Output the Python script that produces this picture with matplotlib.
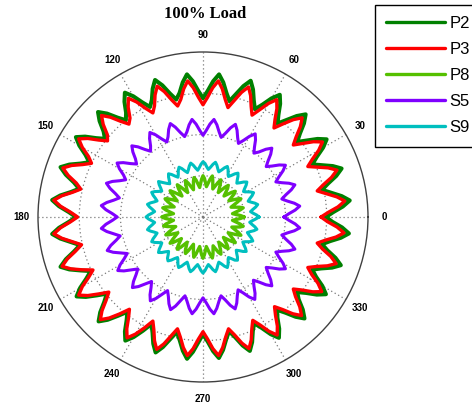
import numpy as np
import matplotlib
matplotlib.use("Agg")
import matplotlib.pyplot as plt

# === Data: radius samples, 6 per lobe, 28 lobes around the circle ===
SERIES_NAMES = ["P2", "P3", "P8", "S5", "S9"]

P2 = [
    14.9, 15.8, 17.0, 17.9, 17.0, 15.8,  14.8, 15.7, 16.9, 17.8, 16.9, 15.7,
    14.7, 15.6, 16.8, 17.7, 16.8, 15.6,  14.6, 15.5, 16.7, 17.6, 16.7, 15.5,
    14.5, 15.4, 16.6, 17.5, 16.6, 15.4,  14.5, 15.4, 16.6, 17.5, 16.6, 15.4,
    14.4, 15.3, 16.5, 17.4, 16.5, 15.3,  14.4, 15.3, 16.5, 17.4, 16.5, 15.3,
    14.6, 15.5, 16.7, 17.6, 16.7, 15.5,  14.8, 15.7, 16.9, 17.8, 16.9, 15.7,
    15.0, 15.9, 17.1, 18.0, 17.1, 15.9,  15.2, 16.1, 17.3, 18.2, 17.3, 16.1,
    15.3, 16.2, 17.4, 18.3, 17.4, 16.2,  15.4, 16.3, 17.5, 18.4, 17.5, 16.3,
    15.4, 16.3, 17.5, 18.4, 17.5, 16.3,  15.3, 16.2, 17.4, 18.3, 17.4, 16.2,
    15.1, 16.0, 17.2, 18.1, 17.2, 16.0,  14.9, 15.8, 17.0, 17.9, 17.0, 15.8,
    14.7, 15.6, 16.8, 17.7, 16.8, 15.6,  14.4, 15.3, 16.5, 17.4, 16.5, 15.3,
    14.3, 15.2, 16.4, 17.3, 16.4, 15.2,  14.2, 15.1, 16.3, 17.2, 16.3, 15.1,
    14.2, 15.1, 16.3, 17.2, 16.3, 15.1,  14.3, 15.2, 16.4, 17.3, 16.4, 15.2,
    14.4, 15.3, 16.5, 17.4, 16.5, 15.3,  14.6, 15.5, 16.7, 17.6, 16.7, 15.5,
    14.7, 15.6, 16.8, 17.7, 16.8, 15.6,  14.8, 15.7, 16.9, 17.8, 16.9, 15.7,
]

P3 = [
    14.3, 15.2, 16.4, 17.3, 16.4, 15.2,  14.2, 15.1, 16.3, 17.2, 16.3, 15.1,
    14.1, 15.0, 16.2, 17.1, 16.2, 15.0,  14.0, 14.9, 16.1, 17.0, 16.1, 14.9,
    13.8, 14.7, 15.9, 16.8, 15.9, 14.7,  13.7, 14.6, 15.8, 16.7, 15.8, 14.6,
    13.6, 14.5, 15.7, 16.6, 15.7, 14.5,  13.6, 14.5, 15.7, 16.6, 15.7, 14.5,
    13.8, 14.7, 15.9, 16.8, 15.9, 14.7,  14.0, 14.9, 16.1, 17.0, 16.1, 14.9,
    14.4, 15.3, 16.5, 17.4, 16.5, 15.3,  14.8, 15.7, 16.9, 17.8, 16.9, 15.7,
    15.0, 15.9, 17.1, 18.0, 17.1, 15.9,  15.2, 16.1, 17.3, 18.2, 17.3, 16.1,
    15.2, 16.1, 17.3, 18.2, 17.3, 16.1,  15.1, 16.0, 17.2, 18.1, 17.2, 16.0,
    14.8, 15.7, 16.9, 17.8, 16.9, 15.7,  14.6, 15.5, 16.7, 17.6, 16.7, 15.5,
    14.3, 15.2, 16.4, 17.3, 16.4, 15.2,  14.0, 14.9, 16.1, 17.0, 16.1, 14.9,
    13.9, 14.8, 16.0, 16.9, 16.0, 14.8,  13.9, 14.8, 16.0, 16.9, 16.0, 14.8,
    13.9, 14.8, 16.0, 16.9, 16.0, 14.8,  13.9, 14.8, 16.0, 16.9, 16.0, 14.8,
    13.9, 14.8, 16.0, 16.9, 16.0, 14.8,  14.0, 14.9, 16.1, 17.0, 16.1, 14.9,
    14.1, 15.0, 16.2, 17.1, 16.2, 15.0,  14.2, 15.1, 16.3, 17.2, 16.3, 15.1,
]

P8 = [
    5.0, 4.58, 4.02, 3.6, 4.02, 4.58,  5.0, 4.58, 4.02, 3.6, 4.02, 4.58,
    5.1, 4.68, 4.12, 3.7, 4.12, 4.68,  5.0, 4.58, 4.02, 3.6, 4.02, 4.58,
    4.9, 4.48, 3.92, 3.5, 3.92, 4.48,  5.0, 4.58, 4.02, 3.6, 4.02, 4.58,
    5.1, 4.68, 4.12, 3.7, 4.12, 4.68,  5.0, 4.58, 4.02, 3.6, 4.02, 4.58,
    4.9, 4.48, 3.92, 3.5, 3.92, 4.48,  4.9, 4.48, 3.92, 3.5, 3.92, 4.48,
    5.0, 4.58, 4.02, 3.6, 4.02, 4.58,  5.1, 4.68, 4.12, 3.7, 4.12, 4.68,
    5.1, 4.68, 4.12, 3.7, 4.12, 4.68,  5.0, 4.58, 4.02, 3.6, 4.02, 4.58,
    5.0, 4.58, 4.02, 3.6, 4.02, 4.58,  4.9, 4.48, 3.92, 3.5, 3.92, 4.48,
    5.0, 4.58, 4.02, 3.6, 4.02, 4.58,  5.1, 4.68, 4.12, 3.7, 4.12, 4.68,
    5.0, 4.58, 4.02, 3.6, 4.02, 4.58,  4.9, 4.48, 3.92, 3.5, 3.92, 4.48,
    5.0, 4.58, 4.02, 3.6, 4.02, 4.58,  5.0, 4.58, 4.02, 3.6, 4.02, 4.58,
    5.1, 4.68, 4.12, 3.7, 4.12, 4.68,  5.0, 4.58, 4.02, 3.6, 4.02, 4.58,
    4.9, 4.48, 3.92, 3.5, 3.92, 4.48,  5.0, 4.58, 4.02, 3.6, 4.02, 4.58,
    5.1, 4.68, 4.12, 3.7, 4.12, 4.68,  5.0, 4.58, 4.02, 3.6, 4.02, 4.58,
]

S5 = [
    9.8, 10.4, 11.2, 11.8, 11.2, 10.4,   9.8, 10.4, 11.2, 11.8, 11.2, 10.4,
    9.8, 10.4, 11.2, 11.8, 11.2, 10.4,   9.8, 10.4, 11.2, 11.8, 11.2, 10.4,
    9.9, 10.5, 11.3, 11.9, 11.3, 10.5,   9.9, 10.5, 11.3, 11.9, 11.3, 10.5,
    9.9, 10.5, 11.3, 11.9, 11.3, 10.5,   9.9, 10.5, 11.3, 11.9, 11.3, 10.5,
    10.0, 10.6, 11.4, 12.0, 11.4, 10.6,  10.1, 10.7, 11.5, 12.1, 11.5, 10.7,
    10.2, 10.8, 11.6, 12.2, 11.6, 10.8,  10.3, 10.9, 11.7, 12.3, 11.7, 10.9,
    10.4, 11.0, 11.8, 12.4, 11.8, 11.0,  10.4, 11.0, 11.8, 12.4, 11.8, 11.0,
    10.4, 11.0, 11.8, 12.4, 11.8, 11.0,  10.3, 10.9, 11.7, 12.3, 11.7, 10.9,
    10.2, 10.8, 11.6, 12.2, 11.6, 10.8,  10.1, 10.7, 11.5, 12.1, 11.5, 10.7,
    10.0, 10.6, 11.4, 12.0, 11.4, 10.6,   9.9, 10.5, 11.3, 11.9, 11.3, 10.5,
    9.8, 10.4, 11.2, 11.8, 11.2, 10.4,   9.8, 10.4, 11.2, 11.8, 11.2, 10.4,
    9.8, 10.4, 11.2, 11.8, 11.2, 10.4,   9.8, 10.4, 11.2, 11.8, 11.2, 10.4,
    9.8, 10.4, 11.2, 11.8, 11.2, 10.4,   9.8, 10.4, 11.2, 11.8, 11.2, 10.4,
    9.8, 10.4, 11.2, 11.8, 11.2, 10.4,   9.8, 10.4, 11.2, 11.8, 11.2, 10.4,
]

S9 = [
    6.8, 6.5, 6.1, 5.8, 6.1, 6.5,  6.8, 6.5, 6.1, 5.8, 6.1, 6.5,
    6.8, 6.5, 6.1, 5.8, 6.1, 6.5,  6.8, 6.5, 6.1, 5.8, 6.1, 6.5,
    6.8, 6.5, 6.1, 5.8, 6.1, 6.5,  6.8, 6.5, 6.1, 5.8, 6.1, 6.5,
    6.8, 6.5, 6.1, 5.8, 6.1, 6.5,  6.7, 6.4, 6.0, 5.7, 6.0, 6.4,
    6.7, 6.4, 6.0, 5.7, 6.0, 6.4,  6.7, 6.4, 6.0, 5.7, 6.0, 6.4,
    6.7, 6.4, 6.0, 5.7, 6.0, 6.4,  6.9, 6.6, 6.2, 5.9, 6.2, 6.6,
    6.9, 6.6, 6.2, 5.9, 6.2, 6.6,  6.9, 6.6, 6.2, 5.9, 6.2, 6.6,
    6.9, 6.6, 6.2, 5.9, 6.2, 6.6,  6.9, 6.6, 6.2, 5.9, 6.2, 6.6,
    6.9, 6.6, 6.2, 5.9, 6.2, 6.6,  6.9, 6.6, 6.2, 5.9, 6.2, 6.6,
    6.8, 6.5, 6.1, 5.8, 6.1, 6.5,  6.8, 6.5, 6.1, 5.8, 6.1, 6.5,
    6.8, 6.5, 6.1, 5.8, 6.1, 6.5,  6.8, 6.5, 6.1, 5.8, 6.1, 6.5,
    6.8, 6.5, 6.1, 5.8, 6.1, 6.5,  6.8, 6.5, 6.1, 5.8, 6.1, 6.5,
    6.7, 6.4, 6.0, 5.7, 6.0, 6.4,  6.7, 6.4, 6.0, 5.7, 6.0, 6.4,
    6.7, 6.4, 6.0, 5.7, 6.0, 6.4,  6.7, 6.4, 6.0, 5.7, 6.0, 6.4,
]

THETA_TICKS = [0, 30, 60, 90, 120, 150, 180, 210, 240, 270, 300, 330]
THETA_LABELS = ["0", "30", "60", "90", "120", "150", "180", "210", "240", "270", "300", "330"]
R_RINGS = [5, 10, 15]
R_MAX = 20

# === Style ===
COLORS = {"P2": "#008000", "P3": "#ff0000", "P8": "#55c000", "S5": "#7f00ff", "S9": "#00bfbf"}
WIDTHS = {"P2": 2.9, "P3": 2.4, "P8": 2.4, "S5": 2.2, "S9": 2.2}

series = {"P2": P2, "P3": P3, "P8": P8, "S5": S5, "S9": S9}

fig = plt.figure(figsize=(4.72, 4.08), dpi=100)
fig.patch.set_facecolor("white")
ax = fig.add_axes([38 / 472, 26 / 408, 330 / 472, 330 / 408], projection="polar")

for name in SERIES_NAMES:
    vals = np.asarray(series[name], dtype=float)
    assert len(vals) == 168, name
    theta = np.linspace(0, 2 * np.pi, len(vals) + 1)
    r = np.append(vals, vals[0])
    ax.plot(theta, r, color=COLORS[name], lw=WIDTHS[name], label=name,
            solid_joinstyle="round", solid_capstyle="round")

ax.set_ylim(0, R_MAX)
ax.set_yticks(R_RINGS)
ax.set_yticklabels([])
ax.set_thetagrids(THETA_TICKS, labels=THETA_LABELS, fontsize=7,
                  fontweight="bold", family="Liberation Sans")
ax.tick_params(axis="x", pad=1.5)
ax.grid(True, linestyle=(0, (1, 2.2)), color="#7a7a7a", linewidth=0.9)
ax.spines["polar"].set_color("#404040")
ax.spines["polar"].set_linewidth(1.0)

fig.text(205 / 472, 1 - 14 / 408, "100% Load", ha="center", va="center",
         fontsize=12, fontweight="bold", family="Liberation Serif")

leg = fig.legend(loc="upper left", bbox_to_anchor=(375 / 472, 403 / 408),
                 bbox_transform=fig.transFigure, prop={"family": "Liberation Sans", "size": 12},
                 handlelength=3.5, handletextpad=0.3, labelspacing=0.66,
                 borderpad=0.68, borderaxespad=0, fancybox=False, framealpha=1)
leg.get_frame().set_edgecolor("black")
leg.get_frame().set_linewidth(1.0)
for line in leg.get_lines():
    line.set_linewidth(2.4)

fig.savefig("out.png", dpi=100)
